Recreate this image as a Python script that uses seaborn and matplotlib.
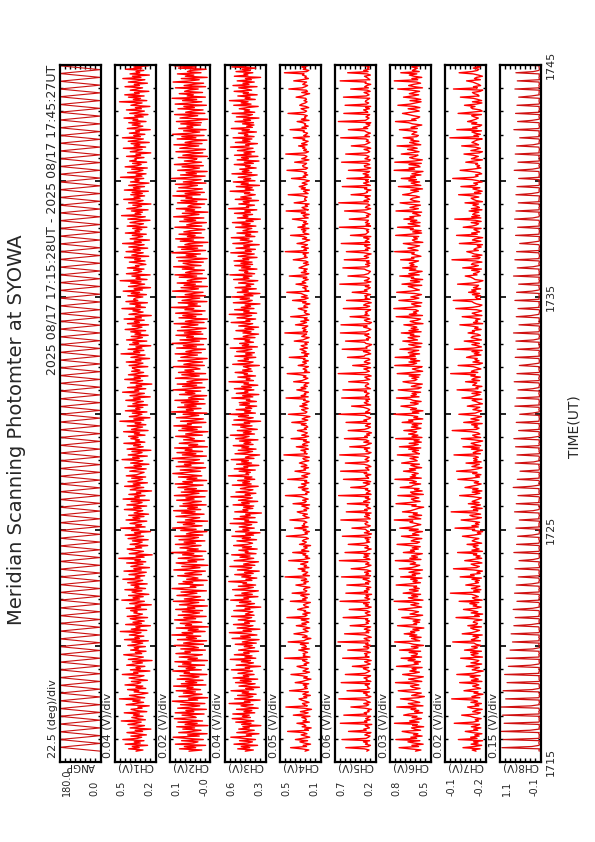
import numpy as np
import pandas as pd
import matplotlib
matplotlib.use("Agg")
import matplotlib.pyplot as plt
import matplotlib.transforms as mtransforms
from matplotlib.ticker import MultipleLocator, NullFormatter
import seaborn as sns

# ---------------- text ----------------
TITLE = "Meridian Scanning Photomter at SYOWA"
HEADER = "2025 08/17 17:15:28UT - 2025 08/17 17:45:27UT"
TIME_LABEL = "TIME(UT)"
TIME_TICKS = [15, 25, 35, 45]               # minutes after 17:00
TIME_TICK_LABELS = ["1715", "1725", "1735", "1745"]
START_MIN = 15 + 28 / 60                     # 17:15:28
CH_STEP_SEC = 3
ANG_STEP_SEC = 10

PANEL_NAMES = ["ANGP", "CH1(V)", "CH2(V)", "CH3(V)", "CH4(V)",
               "CH5(V)", "CH6(V)", "CH7(V)", "CH8(V)"]
DIV_LABELS = ["22.5 (deg)/div", "0.04 (V)/div", "0.02 (V)/div", "0.04 (V)/div",
              "0.05 (V)/div", "0.06 (V)/div", "0.03 (V)/div", "0.02 (V)/div",
              "0.15 (V)/div"]
V_MIN = [0.0, 0.20, -0.04, 0.30, 0.10, 0.20, 0.54, -0.24, -0.10]
V_PER_DIV = [22.5, 0.04, 0.02, 0.04, 0.05, 0.06, 0.03, 0.02, 0.15]
N_DIV = 8

# ---------------- data ----------------
# scan angle (deg) at each turning point
ANGP = [0, 180, 0, 180, 0, 180, 0, 180, 0, 180, 0, 180, 0, 180, 0, 180, 0, 180, 0, 180,
        0, 180, 0, 180, 0, 180, 0, 180, 0, 180, 0, 180, 0, 180, 0, 180, 0, 180, 0, 180,
        0, 180, 0, 180, 0, 180, 0, 180, 0, 180, 0, 180, 0, 180, 0, 180, 0, 180, 0, 180,
        0, 180, 0, 180, 0, 180, 0, 180, 0, 180, 0, 180, 0, 180, 0, 180, 0, 180, 0, 180,
        0, 180, 0, 180, 0, 180, 0, 180, 0, 180, 0, 180, 0, 180, 0, 180, 0, 180, 0, 180,
        0, 180, 0, 180, 0, 180, 0, 180, 0, 180, 0, 180, 0, 180, 0, 180, 0, 180, 0, 180,
        0, 180, 0, 180, 0, 180, 0, 180, 0, 180, 0, 180, 0, 180, 0, 180, 0, 180, 0, 180,
        0, 180, 0, 180, 0, 180, 0, 180, 0, 180, 0, 180, 0, 180, 0, 180, 0, 180, 0, 180,
        0, 180, 0, 180, 0, 180, 0, 180, 0, 180, 0, 180, 0, 180, 0, 180, 0, 180, 0, 180]

# photometer channels (mV), one sample every CH_STEP_SEC seconds
CH1 = [352,298,410,327,381,262,437,319,366,290,455,341,308,392,271,348,423,301,359,236,398,334,286,415,350,312,467,279,340,385,
       297,372,325,444,268,356,391,305,338,249,429,362,293,377,320,481,284,346,403,311,259,367,330,418,276,353,299,438,342,315,
       388,263,349,406,323,290,459,337,371,244,396,318,352,283,425,364,302,380,227,412,339,295,368,448,308,357,274,394,331,366,
       279,416,345,300,384,256,442,326,361,291,404,347,313,475,268,389,321,354,240,433,309,376,288,350,397,262,421,335,302,369,
       343,394,270,428,316,359,233,401,340,287,463,324,375,296,410,252,348,383,306,439,278,362,329,391,265,417,337,300,455,321,
       358,285,407,333,272,446,311,369,247,392,344,298,425,276,361,318,486,289,352,226,405,338,294,373,421,308,356,261,398,330,
       304,380,257,414,347,293,436,316,364,239,387,328,472,281,355,309,399,344,268,430,322,376,290,409,254,367,341,299,443,312,
       371,269,423,338,305,390,248,453,326,362,282,408,315,349,231,397,357,292,441,320,374,263,415,333,301,386,277,428,346,317,
       289,401,346,273,439,310,368,251,394,332,299,461,327,378,264,413,341,305,384,236,422,350,296,371,318,447,283,358,325,392,
       336,410,282,365,324,449,258,387,343,301,420,275,359,314,478,292,369,244,404,337,306,381,267,435,321,354,298,416,262,377,
       348,295,432,319,373,241,399,336,287,457,330,362,276,418,308,351,229,396,342,300,440,318,367,259,411,344,293,386,322,365,
       381,260,406,335,298,428,313,357,246,392,339,282,469,323,370,291,414,306,353,237,402,331,377,268,426,345,302,389,257,360,
       315,393,277,437,341,306,382,254,419,326,365,288,445,310,358,233,407,347,297,376,320,462,279,355,316,400,263,431,338,371,
       357,299,416,271,389,324,452,302,367,239,411,339,285,394,313,476,266,352,320,384,242,427,336,308,371,290,419,329,356,275,
       326,404,282,363,317,441,253,385,345,296,430,319,374,261,408,335,289,457,311,366,247,398,342,301,381,272,435,323,360,307,
       378,267,421,330,294,399,346,243,416,337,280,465,314,359,302,388,258,424,349,309,377,236,410,332,297,448,320,368,285,393,
       303,383,256,443,321,372,286,409,340,251,395,328,361,292,473,306,351,274,418,334,298,386,264,437,343,312,379,269,402,350,
       361,290,426,316,353,237,397,344,304,451,277,367,322,390,249,413,338,295,458,318,370,283,404,326,355,241,420,341,299,382,
       320,409,274,376,338,446,296,362,259,401,331,287,427,310,357,244,392,348,305,481,268,373,317,411,289,440,327,364,252,397,
       346,301,438,325,366,263,412,339,283,455,314,380,248,399,323,352,291,433,307,369,256,417,335,300,386,272,444,330,358,294]

CH2 = [44,-6,81,18,62,-21,97,27,9,73,-12,53,106,4,49,-27,84,33,-3,68,22,92,-30,59,12,87,-9,45,101,16,
       30,71,-15,98,25,56,-24,88,38,2,77,-18,61,109,10,46,-29,83,35,-7,66,19,94,-1,52,28,104,-22,74,14,
       57,-11,90,31,5,79,-26,63,42,107,-4,55,20,85,-17,69,36,99,-28,48,11,82,24,-8,95,39,60,-20,76,7,
       26,102,-13,65,37,-25,89,15,54,-2,111,29,71,-19,47,8,93,-31,58,34,78,-6,43,100,18,64,-23,86,32,3,
       70,-9,96,21,50,-28,81,40,6,105,-16,62,27,-1,91,45,13,75,-24,57,110,17,39,-12,84,29,67,-27,53,9,
       35,88,-5,60,23,-20,103,41,1,72,-30,56,94,14,48,-14,86,33,-8,69,25,112,-22,51,8,79,36,-3,97,19,
       63,-18,83,28,7,99,-10,54,38,-26,76,16,108,43,-7,66,22,89,-29,58,31,2,95,47,-15,73,20,104,-2,49,
       11,80,-23,67,34,-4,92,24,56,-19,101,39,5,74,-27,61,15,87,44,-11,98,30,68,-25,52,13,85,-6,42,107,
       55,-1,78,20,-21,94,36,62,-13,86,26,3,109,48,-24,70,17,91,-9,59,32,100,-28,45,10,82,37,-17,65,23,
       41,96,-8,57,29,-30,84,12,71,-5,103,35,50,-22,77,19,-12,93,43,6,67,-26,112,27,54,-3,88,16,61,-19,
       74,8,99,-14,46,33,-25,81,21,58,-2,106,39,-18,69,14,90,-7,52,28,-29,97,44,4,72,-21,85,25,60,1,
       18,105,-16,64,37,-9,87,23,-27,76,48,11,98,-4,56,31,-20,92,15,66,-13,110,40,3,79,-24,53,27,95,-10,
       62,-3,89,22,-23,74,45,9,102,-15,58,30,-28,83,17,68,-6,96,36,-19,60,25,113,-1,47,12,86,-26,71,35,
       2,94,-20,59,28,-11,108,42,7,75,-28,63,19,90,-5,51,33,-24,82,14,99,-8,57,38,-16,70,24,104,-3,46,
       67,-12,85,31,-27,92,16,55,-1,111,37,-21,73,10,87,-9,60,43,-30,78,26,96,-14,50,20,83,-4,64,39,-18,
       29,99,-6,53,34,-24,80,18,63,-14,104,45,5,70,-30,58,22,93,-2,48,36,-17,89,13,75,-25,56,32,107,0,
       59,-16,91,24,-8,84,41,11,97,-22,66,28,-3,112,36,-19,77,15,55,-27,88,30,3,71,-12,101,43,-5,62,21,
       13,86,-28,68,35,-10,95,26,-20,80,49,6,103,-7,59,32,-26,90,17,72,-15,108,38,2,65,-23,84,29,52,-1,
       76,-4,93,19,-29,79,47,10,100,-18,57,33,-11,87,23,64,-24,98,40,-6,69,14,110,-20,51,27,82,-9,61,44,
       8,97,-21,63,30,-13,106,39,4,74,-27,58,25,89,-3,50,37,-23,85,16,102,-10,55,41,-17,72,21,96,-5,48]

CH3 = [458,395,517,423,489,362,546,437,402,503,378,470,571,409,449,351,524,441,388,509,426,477,336,486,413,532,391,463,560,418,
       480,427,555,384,468,407,526,357,443,491,397,584,420,465,342,541,436,399,518,373,482,431,569,393,455,347,507,440,381,534,
       412,497,361,553,430,473,389,515,446,401,566,424,458,339,529,438,394,488,417,575,376,461,405,543,428,470,354,510,447,385,
       466,404,536,372,481,433,350,561,419,494,367,449,582,411,475,344,521,437,398,550,426,463,381,513,442,408,565,389,457,429,
       398,548,421,460,337,527,445,386,503,414,572,432,469,359,538,403,485,424,356,557,439,395,512,377,476,448,587,406,453,368,
       485,415,540,396,464,349,519,434,407,578,383,471,427,355,545,451,392,499,421,564,374,458,436,508,365,480,410,549,443,401,
       439,523,370,481,418,562,393,455,343,534,429,477,388,505,446,408,576,366,462,431,548,381,497,420,455,332,540,437,476,399,
       471,392,553,427,486,361,511,443,403,570,418,459,375,531,435,398,496,449,357,559,412,478,424,517,384,463,406,589,431,452,
       418,506,380,544,438,469,352,526,409,487,433,567,390,457,426,346,538,441,401,513,374,485,430,552,397,468,415,503,359,533,
       459,428,574,386,473,412,520,364,447,494,405,559,423,466,338,547,440,396,511,433,580,379,464,416,529,408,456,369,501,425,
       505,371,449,422,563,399,478,352,528,437,462,391,543,411,486,360,468,432,585,394,450,421,516,378,467,441,537,404,479,413,
       437,472,348,556,426,397,515,433,466,376,539,405,455,387,525,445,406,575,363,481,431,502,394,460,423,546,382,474,436,354,
       476,413,531,392,461,354,509,439,400,568,421,453,377,522,448,408,583,369,470,427,541,390,489,417,459,343,551,432,404,498,
       425,564,398,467,344,520,434,482,372,537,416,451,392,510,441,360,549,429,473,406,578,385,463,438,506,367,487,419,540,401,
       492,405,546,430,477,366,514,446,388,571,411,458,379,530,424,470,349,555,436,403,497,428,567,383,456,415,523,361,476,442,
       407,533,375,484,420,558,396,452,340,519,437,474,401,542,418,462,368,587,431,449,386,508,427,474,355,536,411,493,435,380,
       464,422,576,393,458,404,528,347,490,434,551,382,470,416,513,439,365,562,408,481,429,501,373,457,419,544,395,466,351,521,
       433,487,359,542,412,468,385,519,445,397,573,428,455,363,535,421,479,406,553,389,464,438,511,371,483,426,567,402,447,390,
       479,394,538,417,472,351,527,431,402,560,384,466,424,505,443,357,548,413,490,436,581,380,459,420,516,365,474,433,545,408,
       445,509,366,554,429,476,388,521,410,457,338,543,437,469,399,530,418,483,376,563,426,451,392,514,438,404,575,362,468,423]

CH4 = [251,214,283,392,236,269,197,258,301,226,345,274,205,247,289,232,266,421,218,254,191,279,243,262,330,208,271,237,
       245,282,203,365,259,221,296,240,188,267,438,229,255,276,212,249,283,310,234,263,199,272,246,218,402,287,227,256,
       233,269,215,347,278,241,193,264,229,284,388,250,207,271,244,219,290,329,236,260,213,247,275,231,451,203,268,252,
       270,226,255,312,209,283,238,249,296,217,416,263,242,194,276,230,258,359,285,221,247,269,205,254,336,240,281,214,
       239,288,212,428,251,231,273,202,260,245,323,279,216,252,266,236,199,394,241,274,228,257,292,210,377,248,233,265,
       257,204,276,340,243,262,219,287,235,253,446,208,270,241,225,281,250,318,213,259,237,294,246,222,410,267,206,249,
       224,271,243,371,214,285,256,230,264,197,305,255,238,277,260,218,242,433,289,227,251,209,268,240,353,221,279,256,
       264,233,258,399,277,211,248,272,228,293,327,236,261,215,244,282,207,368,253,238,274,220,259,286,442,232,245,211,
       248,279,221,315,256,240,286,213,254,235,420,268,226,283,239,205,271,349,245,262,217,288,233,256,306,273,214,260,
       272,209,265,457,230,258,244,291,218,249,336,224,275,253,210,266,237,387,258,216,283,245,229,270,325,237,258,224,
       236,287,240,380,262,224,279,251,203,273,413,246,232,260,284,221,255,302,231,276,241,212,265,249,436,220,289,244,
       258,217,271,331,243,289,229,262,245,214,362,280,250,223,267,241,296,425,207,256,234,270,243,218,318,262,237,275,
       219,266,251,405,228,257,213,284,240,268,300,227,263,289,231,252,218,356,272,245,211,283,257,236,448,229,268,242,
       277,241,224,344,269,236,292,215,257,230,391,271,209,246,259,235,280,317,225,263,250,204,274,241,373,255,220,287,
       230,264,289,429,212,251,240,273,226,261,339,243,278,255,220,268,233,404,249,214,287,238,262,229,310,281,247,216,
       266,222,247,366,283,229,258,242,270,217,444,236,261,218,285,249,227,329,263,241,206,276,235,264,392,213,256,273,
       243,286,213,321,250,275,224,265,238,293,374,220,254,270,211,287,246,435,219,257,280,226,249,211,357,275,238,255,
       252,230,279,415,221,244,266,208,288,248,308,262,231,279,244,209,261,383,243,269,225,258,236,282,427,244,226,268,
       275,249,236,352,266,213,283,247,232,259,439,245,217,264,238,273,252,314,230,284,246,221,271,253,366,209,264,240,
       226,268,258,397,238,281,220,257,245,272,328,212,286,243,256,229,267,417,255,235,263,290,215,244,303,282,248,231,
       261,237,244,338,275,250,206,283,227,240,409,279,248,226,273,255,236,361,281,218,252,239,276,260,452,236,214,269,
       247,283,222,386,250,234,271,218,264,241,320,257]

CH5 = [302,276,331,548,287,259,318,294,341,268,593,311,282,264,325,297,253,516,309,336,271,289,320,244,612,299,328,263,
       315,284,257,571,303,332,275,291,249,326,488,306,279,337,262,298,317,629,285,255,312,296,340,271,534,308,266,293,
       288,321,270,602,254,310,297,335,278,258,553,324,290,267,303,342,280,471,316,262,295,327,251,306,585,274,319,299,
       329,261,304,525,292,277,338,256,313,286,640,269,301,333,250,287,322,562,278,309,264,331,293,257,497,325,282,310,
       270,314,289,579,336,260,298,320,266,305,508,292,251,319,284,340,272,615,297,267,324,283,311,246,547,290,330,275,
       307,255,327,536,279,316,263,289,345,273,598,258,312,282,328,256,300,485,334,290,253,316,277,302,623,264,295,338,
       281,332,266,557,310,294,251,325,283,299,519,335,268,306,276,321,258,588,291,247,330,273,304,317,476,286,261,314,
       323,289,309,606,262,280,328,271,316,252,542,297,327,259,293,311,285,530,269,339,298,263,319,280,632,252,308,287,
       263,318,290,490,327,305,268,343,257,314,575,280,294,316,255,332,302,609,276,288,316,254,281,335,553,301,277,322,
       296,274,335,619,284,252,311,292,330,267,502,321,288,249,337,278,313,564,295,326,269,304,247,290,520,328,282,259,
       318,293,259,545,301,336,278,258,305,323,627,262,315,284,268,296,341,480,257,300,331,285,312,268,596,277,316,303,
       275,329,304,582,259,288,320,313,279,294,514,339,266,302,325,251,287,637,318,272,295,336,258,309,467,296,263,331,
       311,266,282,528,333,319,256,284,341,262,590,299,310,273,245,313,328,551,283,305,261,290,324,276,611,317,287,254,
       284,338,297,604,270,247,306,330,265,308,498,276,323,296,319,283,257,577,306,268,339,314,250,297,539,263,321,301,
       326,258,315,473,297,329,283,261,319,275,618,314,255,330,288,271,306,523,337,286,273,259,305,329,582,292,270,316,
       265,303,274,566,316,281,332,299,252,337,541,287,318,265,304,327,263,601,272,320,297,276,338,255,493,315,299,280,
       306,279,340,623,258,310,271,318,292,283,507,325,280,306,260,293,335,562,304,257,318,301,266,290,630,283,334,268,
       290,322,260,486,335,294,306,253,328,301,589,260,299,340,277,315,284,535,261,323,280,345,296,270,517,304,256,325,
       331,268,299,597,274,261,323,290,276,318,549,302,267,287,334,256,300,483,327,294,265,308,284,313,608,269,322,297,
       260,305,327,518,291,338,285,266,310,255,635,318,296,275,312,288,268,571,290,308,339,271,316,257,556,305,280,319,
       313,287,268,575,309,275,297,334,262,296,491,283,326,302,256,321,310,614,266,283,304,329,260,298,526,287,338,274,
       296,271,319,543,282,305,263,327,290,258,600,311]

CH6 = [628,596,661,724,610,649,583,637,672,602,743,621,655,589,640,614,668,706,598,633,651,580,645,617,751,607,662,625,
       593,648,619,697,664,587,633,609,654,625,738,584,641,670,603,629,657,716,612,576,650,623,594,666,729,635,601,646,
       657,608,640,745,591,629,668,615,582,652,703,637,605,661,624,648,589,739,658,611,636,599,671,630,712,592,653,620,
       617,665,598,721,644,613,652,581,639,667,750,603,628,651,595,662,620,694,632,656,607,643,579,654,733,621,637,604,
       642,601,653,708,626,586,660,633,610,646,727,662,592,624,655,609,640,753,584,638,669,615,650,598,700,645,612,663,
       606,637,621,741,661,599,642,618,656,590,715,628,647,602,666,633,587,723,650,624,603,659,627,641,746,596,661,616,
       651,619,588,699,634,657,611,647,600,663,736,619,604,653,636,591,658,710,608,645,628,587,664,612,720,649,630,597,
       625,660,643,752,597,628,666,592,641,617,704,656,633,611,580,649,624,742,664,601,639,652,608,636,731,582,647,657,
       589,634,607,717,652,640,598,662,623,646,748,594,659,627,648,612,640,698,627,663,592,631,655,605,709,662,618,631,
       660,612,650,734,605,622,646,610,668,597,722,640,612,665,594,636,606,744,590,648,614,668,633,621,696,628,596,652,
       614,647,593,706,643,668,585,638,615,655,754,608,646,584,657,622,663,713,637,612,657,595,642,660,739,607,654,623,
       648,598,664,729,612,594,652,626,588,661,701,632,619,649,608,665,601,735,652,586,622,646,610,589,749,641,621,666,
       603,656,625,747,629,661,604,670,643,609,719,651,596,636,667,590,649,702,616,640,671,604,658,637,711,595,666,612,
       653,620,646,696,584,637,659,616,598,652,741,587,664,621,640,611,627,755,661,597,634,651,591,648,725,640,608,655,
       622,593,634,738,658,605,628,645,670,591,707,646,603,657,586,652,638,720,606,667,620,589,663,626,703,618,659,637,
       664,631,610,715,637,651,596,623,649,635,750,613,640,672,629,604,655,699,585,633,646,617,638,609,744,656,592,644,
       595,658,641,733,602,626,671,601,657,620,696,638,661,599,616,644,592,742,643,611,660,632,599,670,718,604,638,658,
       645,604,627,703,662,645,610,656,587,641,728,597,629,653,604,667,622,711,628,657,596,649,621,584,753,633,666,601,
       611,666,594,749,635,588,639,662,628,613,711,659,607,637,674,618,646,736,597,633,662,608,655,641,700,621,611,649,
       639,620,658,722,617,654,622,591,645,668,745,624,650,614,603,639,669,704,653,606,628,671,602,632,731,660,629,595,
       660,597,630,698,646,609,664,637,604,650,732,587,634,668,640,598,622,752,615,649,591,637,664,620,714,606,646,633,
       616,650,603,740,627,663,598,621,657,612,706,644]

CH7 = [-203,-188,-219,-152,-196,-225,-184,-211,-193,-229,-134,-207,-182,-215,-198,-226,-189,-161,-210,-194,-222,-185,-205,-217,-118,-191,-213,-200,
       -223,-196,-181,-147,-208,-220,-190,-202,-227,-186,-170,-214,-199,-224,-183,-209,-192,-108,-218,-187,-204,-230,-195,-211,-156,-184,-221,-206,
       -190,-214,-202,-139,-226,-185,-212,-197,-180,-219,-128,-193,-209,-231,-188,-201,-216,-165,-199,-225,-183,-207,-214,-190,-143,-228,-196,-184,
       -211,-182,-224,-158,-194,-208,-186,-222,-203,-195,-112,-220,-185,-200,-213,-191,-227,-149,-186,-204,-217,-193,-182,-224,-171,-205,-209,-192,
       -197,-226,-189,-125,-216,-198,-229,-184,-210,-187,-154,-203,-223,-192,-206,-179,-214,-137,-227,-197,-189,-212,-201,-186,-103,-217,-194,-222,
       -185,-205,-218,-163,-191,-213,-200,-216,-187,-224,-141,-196,-182,-219,-207,-228,-193,-115,-205,-216,-196,-184,-226,-209,-159,-190,-225,-203,
       -219,-193,-206,-131,-228,-187,-215,-202,-192,-211,-168,-225,-205,-188,-197,-214,-184,-150,-194,-222,-208,-229,-189,-198,-121,-212,-187,-214,
       -201,-217,-186,-145,-203,-224,-190,-179,-221,-199,-106,-210,-193,-227,-184,-203,-220,-173,-215,-188,-201,-214,-224,-192,-139,-199,-218,-188,
       -226,-190,-211,-160,-185,-207,-223,-196,-213,-189,-132,-186,-217,-201,-222,-190,-207,-127,-182,-209,-226,-187,-203,-216,-164,-223,-194,-207,
       -193,-212,-199,-117,-220,-192,-204,-228,-185,-216,-152,-221,-198,-184,-210,-229,-195,-146,-221,-199,-190,-218,-211,-185,-110,-204,-215,-196,
       -209,-186,-227,-155,-197,-215,-183,-206,-224,-194,-136,-200,-212,-225,-191,-205,-218,-169,-196,-228,-213,-202,-188,-226,-148,-186,-201,-219,
       -187,-223,-194,-129,-211,-203,-226,-190,-199,-206,-162,-217,-187,-196,-220,-183,-200,-104,-210,-185,-197,-222,-207,-193,-133,-215,-228,-191,
       -215,-199,-208,-166,-184,-222,-196,-215,-187,-227,-119,-194,-224,-209,-187,-216,-193,-157,-224,-206,-184,-190,-220,-209,-172,-197,-189,-223,
       -198,-211,-185,-140,-229,-193,-209,-201,-219,-190,-149,-226,-201,-188,-211,-225,-205,-124,-188,-217,-226,-205,-194,-187,-114,-221,-206,-200,
       -221,-189,-217,-174,-203,-186,-221,-193,-208,-213,-131,-189,-215,-230,-199,-192,-183,-161,-207,-193,-210,-217,-186,-224,-151,-194,-212,-185,
       -191,-226,-200,-109,-214,-219,-188,-226,-196,-185,-167,-212,-195,-204,-223,-208,-228,-138,-198,-222,-189,-199,-229,-201,-127,-208,-186,-217,
       -206,-195,-223,-153,-188,-205,-213,-184,-223,-200,-120,-222,-186,-217,-190,-197,-214,-176,-226,-185,-216,-208,-191,-213,-160,-228,-203,-192,
       -184,-214,-191,-135,-222,-197,-227,-209,-191,-218,-144,-199,-209,-194,-227,-212,-187,-112,-193,-211,-201,-225,-216,-186,-141,-189,-222,-207,
       -217,-202,-209,-163,-196,-228,-185,-198,-212,-192,-156,-215,-228,-183,-205,-220,-199,-147,-213,-203,-187,-196,-206,-227,-101,-213,-195,-220,
       -199,-187,-224,-128,-207,-190,-218,-225,-186,-206,-170,-188,-202,-212,-196,-186,-224,-133,-184,-227,-219,-190,-183,-199,-158,-204,-226,-189,
       -225,-210,-193,-142,-215,-211,-196,-189,-219,-229,-115,-208,-193,-221,-213,-201,-190,-166,-220,-197,-205,-228,-212,-192,-137,-187,-209,-214,
       -192,-219,-204,-150,-188,-225,-201,-214,-196,-183,-126,-223]

CH8 = [-62,-55,-71,1030,150,-58,-66,-49,-60,-73,990,-52,-64,-57,-69,-48,-61,1050,210,-67,-54,-70,-59,-63,965,-51,-68,-56,
       -65,-50,-72,1010,-57,-62,-48,-69,-60,-55,1060,180,-66,-53,-71,-58,-64,920,-50,-67,-61,-74,-56,-52,995,140,-63,-70,
       -58,-66,-49,880,-61,-72,-55,-64,-51,-68,950,-59,-47,-70,-62,-56,-65,840,190,-53,-69,-60,-57,-71,900,-54,-63,-48,
       -67,-52,-60,790,120,-64,-73,-57,-50,-66,720,-61,-55,-69,-48,-63,-58,760,-52,-70,-65,-56,-62,-49,680,170,-59,-66,
       -53,-68,-57,640,-62,-51,-70,-60,-65,-54,700,130,-67,-58,-63,-72,-49,590,-61,-55,-68,-52,-66,-59,660,-57,-64,-50,
       -69,-56,-63,610,160,-59,-52,-67,-61,-48,550,-64,-70,-55,-58,-62,-53,650,-66,-71,-57,-50,-60,-65,530,110,-54,-68,
       -60,-64,-51,680,-56,-69,-62,-54,-67,-58,600,-52,-61,-73,-55,-49,-65,570,150,-59,-63,-68,-56,-62,620,-70,-53,-57,
       -55,-71,-66,520,-63,-50,-58,-68,-54,-61,660,120,-57,-64,-69,-52,-60,610,-67,-48,-62,-59,-72,-55,560,-61,-66,-51,
       -64,-53,-59,700,180,-66,-61,-57,-70,-50,580,-63,-56,-68,-54,-65,-60,500,-53,-69,-58,-64,-49,-67,640,100,-62,-55,
       -58,-67,-52,590,-60,-72,-55,-63,-49,-66,630,-57,-62,-53,-70,-59,-64,680,160,-56,-71,-51,-65,-60,540,-68,-54,-61,
       -70,-56,-64,610,-53,-58,-67,-62,-55,-71,510,140,-60,-66,-50,-63,-57,650,-69,-54,-61,-65,-58,-52,600,-64,-70,-59,
       -51,-63,-68,560,130,-61,-56,-70,-64,-52,670,-59,-65,-48,-62,-67,-55,590,-60,-73,-57,-53,-66,-61,520,190,-58,-63,
       -66,-59,-54,640,-69,-57,-62,-51,-67,-60,580,-54,-71,-63,-58,-50,-65,620,110,-64,-55,-69,-60,-57,690,-52,-67,-62,
       -57,-70,-61,530,-56,-65,-53,-68,-59,-63,610,170,-52,-60,-67,-72,-58,560,-63,-50,-66,-61,-55,-70,650,-59,-53,-68,
       -63,-52,-67,600,150,-60,-69,-58,-54,-65,540,-62,-57,-71,-53,-61,-66,690,-55,-68,-59,-64,-51,-63,580,120,-70,-56,
       -54,-66,-60,650,-62,-55,-71,-63,-58,-50,600,-67,-61,-56,-70,-64,-52,510,180,-59,-67,-57,-62,-69,630,-55,-60,-65,
       -68,-58,-53,570,-65,-61,-56,-70,-63,-57,660,130,-54,-66,-60,-51,-69,620,-57,-62,-53,-72,-64,-58,550,-66,-51,-60,
       -59,-64,-70,620,160,-52,-63,-55,-67,-61,590,-56,-68,-59,-64,-57,-62,540,-70,-55,-66,-60,-58,-53,670,140,-63,-69,
       -52,-69,-57,560,-61,-67,-58,-64,-50,-70,640,-63,-55,-62,-68,-59,-53,600,120,-65,-56,-61,-69,-54,510,-60,-66,-57,
       -66,-55,-63,680,-58,-60,-69,-52,-65,-56,570,150,-61,-67,-54,-63,-70,630,-59,-52,-64,-68,-57,-62,590,-55,-71,-60,
       -57,-62,-68,540,170,-65,-54,-61,-59,-72,650,-58,-63,-51,-66,-60,-57,580,-68,-62,-55,-67,-60,-64,620,110,-53,-67,
       -61,-56,-64,600,-59,-68,-52,-66,-60,-57,640,-62]

CHANNELS_MV = [CH1, CH2, CH3, CH4, CH5, CH6, CH7, CH8]

# ---------------- build tables ----------------
frames = []
ang_t = START_MIN + np.arange(len(ANGP)) * ANG_STEP_SEC / 60
frames.append(pd.DataFrame({"panel": PANEL_NAMES[0], "time": ang_t,
                            "value": np.asarray(ANGP, float)}))
for name, vals in zip(PANEL_NAMES[1:], CHANNELS_MV):
    t = START_MIN + np.arange(len(vals)) * CH_STEP_SEC / 60
    frames.append(pd.DataFrame({"panel": name, "time": t,
                                "value": np.asarray(vals, float) / 1000.0}))
df = pd.concat(frames, ignore_index=True)

# ---------------- style ----------------
sns.set_theme(style="white")
plt.rcParams["font.family"] = ["DejaVu Sans"]

W, H = 595, 842
fig = plt.figure(figsize=(W / 100, H / 100), dpi=100)

px_top, px_bot = 65, 762
ax_left0, ax_pitch, ax_w = 59.5, 55.0, 41.0
bottom = 1 - px_bot / H
height = (px_bot - px_top) / H

LINE_COLORS = ["#cc1010", "#ff0000", "#ff0000", "#ff0000", "#ff0000",
               "#ff0000", "#ff0000", "#ff0000", "#d01010"]
LINE_WIDTHS = [0.8, 1.0, 1.0, 1.0, 1.0, 1.0, 1.0, 1.0, 0.9]
axes = []
for i, name in enumerate(PANEL_NAMES):
    left = (ax_left0 + i * ax_pitch) / W
    ax = fig.add_axes([left, bottom, ax_w / W, height])
    axes.append(ax)
    sub = df[df["panel"] == name]
    sns.lineplot(data=sub, x="value", y="time", orient="y", estimator=None,
                 color=LINE_COLORS[i], linewidth=LINE_WIDTHS[i], ax=ax, legend=False)
    vmin = V_MIN[i]
    vmax = vmin + N_DIV * V_PER_DIV[i]
    ax.set_xlim(vmax, vmin)
    ax.set_ylim(15, 45)
    ax.set_xlabel("")
    ax.set_ylabel("")
    ax.set_xticks([vmin + k * V_PER_DIV[i] for k in range(1, N_DIV)])
    ax.xaxis.set_major_formatter(NullFormatter())
    ax.yaxis.set_major_locator(MultipleLocator(5))
    ax.yaxis.set_minor_locator(MultipleLocator(1))
    ax.yaxis.set_major_formatter(NullFormatter())
    ax.tick_params(axis="x", which="both", direction="in", top=True, bottom=True,
                   length=2.6, width=1.0, color="black")
    ax.tick_params(axis="y", which="major", direction="in", left=True, right=True,
                   length=4.5, width=1.2, color="black")
    ax.tick_params(axis="y", which="minor", direction="in", left=True, right=True,
                   length=2.2, width=1.0, color="black")
    for sp in ax.spines.values():
        sp.set_linewidth(1.6)
        sp.set_color("black")
    ax.set_facecolor("white")

    # labels under each panel
    cx = (ax_left0 + i * ax_pitch + ax_w / 2) / W
    fig.text(cx, 1 - 766 / H, name, rotation=180, ha="center", va="center",
             fontsize=7.5)
    fig.text((ax_left0 + i * ax_pitch + 7) / W, 1 - 796 / H, f"{vmax:.1f}",
             rotation=90, ha="center", va="bottom", fontsize=7)
    fig.text((ax_left0 + i * ax_pitch + ax_w - 6) / W, 1 - 796 / H, f"{vmin:.1f}",
             rotation=90, ha="center", va="bottom", fontsize=7)
    # scale label left of each panel
    fig.text((ax_left0 + i * ax_pitch - 6.5) / W, 1 - 758 / H, DIV_LABELS[i],
             rotation=90, ha="center", va="bottom", fontsize=8)

# time labels to the right of the last panel
last = axes[-1]
trans = mtransforms.blended_transform_factory(fig.transFigure, last.transData)
for tv, tl in zip(TIME_TICKS, TIME_TICK_LABELS):
    last.text(551 / W, tv, tl, transform=trans, rotation=90, ha="center",
              va="center", fontsize=8, clip_on=False)

fig.text(575 / W, 1 - 427 / H, TIME_LABEL, rotation=90, ha="center", va="center",
         fontsize=10)
fig.text(52.5 / W, 1 - px_top / H, HEADER, rotation=90, ha="center", va="top",
         fontsize=9)
fig.text(17 / W, 1 - 430 / H, TITLE, rotation=90, ha="center", va="center",
         fontsize=14)

fig.savefig("out.png", dpi=100, facecolor="white")
